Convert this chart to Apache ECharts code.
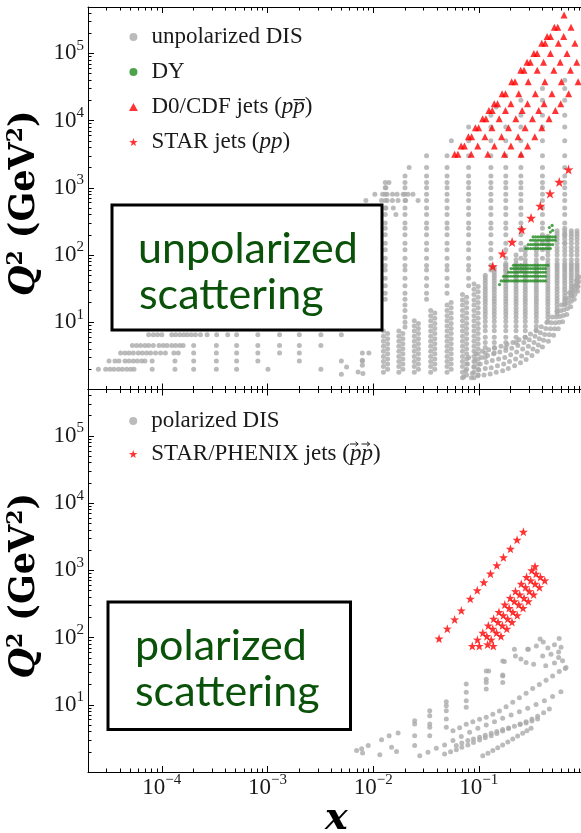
<!DOCTYPE html>
<html lang="en">
<head>
<meta charset="utf-8">
<title>x - Q2 coverage</title>
<script src="https://cdn.jsdelivr.net/npm/echarts@6/dist/echarts.min.js"></script>
<style>
  html, body { margin: 0; padding: 0; background: #fff; }
  #chart { width: 581px; height: 833px; }
</style>
</head>
<body>
<div id="chart"></div>
<script>
// ---------------- data (x, Q^2 in GeV^2) ----------------

// unpolarized DIS: HERA low-Q2 rows (bottom left)
var disRowQ2 = [6.5, 4.5, 3.5, 2.65, 2.0];
var disRowX = [
  [7.5e-5, 8.3e-5, 9.1e-5, 1.0e-4, 1.24e-4, 1.35e-4, 1.48e-4, 1.61e-4, 1.74e-4, 1.9e-4, 2.08e-4, 2.32e-4, 2.68e-4, 3.3e-4, 4.2e-4, 5.1e-4, 8.1e-4, 1.3e-3, 2.0e-3, 3.2e-3, 5.0e-3],
  [5.26e-5, 5.77e-5, 6.3e-5, 6.92e-5, 7.5e-5, 8.3e-5, 9.4e-5, 1.03e-4, 1.12e-4, 1.24e-4, 1.35e-4, 1.48e-4, 1.59e-4, 2.0e-4, 3.28e-4, 5.1e-4, 8.1e-4, 1.3e-3, 2.0e-3, 3.2e-3],
  [4.07e-5, 4.48e-5, 4.89e-5, 5.37e-5, 5.98e-5, 6.53e-5, 7.17e-5, 7.82e-5, 8.71e-5, 9.72e-5, 1.08e-4, 1.3e-4, 1.43e-4, 2.0e-4, 3.28e-4, 5.1e-4, 8.1e-4, 1.3e-3, 2.0e-3, 7.9e-3, 9.1e-3],
  [3.16e-5, 3.6e-5, 3.93e-5, 4.48e-5, 4.89e-5, 5.37e-5, 5.86e-5, 6.44e-5, 6.92e-5, 8.1e-5, 1.33e-4, 2.0e-4, 3.28e-4, 5.1e-4, 8.1e-4, 2.0e-3, 5.0e-3, 7.9e-3],
  [2.51e-5, 2.94e-5, 3.23e-5, 3.52e-5, 3.88e-5, 4.23e-5, 4.65e-5, 5.07e-5, 5.45e-5, 8.1e-5, 1.33e-4, 2.0e-4, 3.28e-4, 5.1e-4, 1.01e-3, 3.2e-3]
];

// unpolarized DIS: HERA columns at fixed x
var heraQ2 = [8.5, 10, 12, 15, 18, 22, 27, 35, 45, 60, 70, 90, 120, 150, 200, 250, 300, 400, 500, 650, 800, 1000, 1200, 1500, 2000, 3000, 5000, 8000, 12000, 20000, 30000];
var heraColX = [0.013, 0.02, 0.032, 0.05, 0.08, 0.13, 0.18, 0.25, 0.4, 0.65];
var heraColMin = [22, 8.5, 22, 27, 35, 60, 45, 60, 90, 150];
var heraColMax = [1200, 1500, 3000, 3000, 8000, 12000, 8000, 20000, 30000, 30000];

// unpolarized DIS: scattered single points
var disExtra = [
  [0.00853, 650], [0.01037, 800], [0.01227, 800], [0.01355, 800], [0.01524, 800], [0.01683, 800], [0.0192, 800], [0.0214, 800], [0.0238, 800],
  [0.012, 650], [0.01355, 650], [0.0152, 650], [0.0172, 650], [0.0203, 650], [0.0266, 650],
  [0.0141, 1200], [0.0219, 2000], [0.0132, 1000], [0.0132, 500], [0.0155, 500], [0.0164, 400],
  [0.055, 5000], [0.146, 16000], [0.65, 40000],
  [0.0056, 2.16], [0.005, 1.68], [0.0072, 1.82], [0.008, 1.73], [0.0079, 2.29], [0.0079, 2.72]
];

// unpolarized DIS: fixed-target pairs at small x
var nmcQ2A = [1.5, 1.8, 2.2, 2.6, 3.1, 3.7, 4.4, 5.2, 6.2, 7.4, 8.8, 10.5, 12.5, 15, 18, 21.5, 26, 31, 37];
var nmcQ2B = [1.65, 2.0, 2.4, 2.85, 3.4, 4.05, 4.8, 5.7, 6.8, 8.1, 9.6, 11.5, 13.7, 16.5, 19.7, 23.5, 28.5, 34];
var nmcColXA = [0.0125, 0.0175, 0.0245, 0.035, 0.05, 0.07, 0.09];
var nmcColMinA = [1.8, 1.8, 1.8, 1.8, 1.8, 1.5, 1.5];
var nmcColMaxA = [7.4, 7.4, 10.5, 15, 18, 26, 37];
var nmcColXB = [0.0137, 0.0191, 0.0268, 0.0383, 0.0547, 0.0766, 0.0985];
var nmcColMinB = [2.0, 2.0, 2.0, 2.0, 2.0, 1.65, 1.65];
var nmcColMaxB = [6.8, 6.8, 9.6, 13.7, 19.7, 23.5, 34];

// unpolarized DIS: fixed-target columns at large x
var ftQ2 = [2.5, 3, 3.5, 4.2, 5, 6, 7.5, 8.75, 10.25, 11.75, 13.25, 14.75, 16.5, 18.5, 20.5, 22.5, 25, 28, 31, 34, 38, 42, 46, 50, 55, 60, 65, 70, 75, 85, 100, 115, 130, 150, 170, 190, 210, 230];
var ftColX = [0.115, 0.14, 0.18, 0.225, 0.275, 0.35, 0.45, 0.55, 0.65, 0.75, 0.85];
var ftColMin = [3, 3.5, 4.2, 5, 6, 7.5, 10.25, 13.25, 18.5, 25, 34];
var ftColMax = [50, 65, 75, 100, 130, 150, 190, 230, 230, 230, 230];

// unpolarized DIS: dense low-Q2 band at large x
var slacPts = [
  [0.072, 1.55], [0.075, 1.9], [0.078, 2.4], [0.08, 3.0],
  [0.085, 1.5], [0.087, 1.75], [0.09, 2.15], [0.092, 2.7], [0.094, 3.4],
  [0.098, 1.6], [0.1, 1.95], [0.103, 2.4], [0.106, 3.0], [0.108, 3.7],
  [0.112, 1.65], [0.115, 2.05], [0.118, 2.55], [0.121, 3.2], [0.124, 3.9],
  [0.128, 1.7], [0.131, 2.1], [0.134, 2.7], [0.138, 3.4], [0.141, 4.1],
  [0.146, 1.8], [0.15, 2.25], [0.154, 2.85], [0.158, 3.6], [0.162, 4.4],
  [0.168, 1.9], [0.172, 2.4], [0.176, 3.0], [0.18, 3.8], [0.185, 4.7],
  [0.19, 2.05], [0.195, 2.6], [0.2, 3.3], [0.205, 4.1], [0.21, 5.0],
  [0.218, 2.25], [0.223, 2.85], [0.228, 3.6], [0.234, 4.5], [0.24, 5.5],
  [0.248, 2.5], [0.254, 3.15], [0.26, 4.0], [0.267, 5.0], [0.274, 6.0],
  [0.28, 2.8], [0.287, 3.5], [0.294, 4.4], [0.3, 5.5], [0.308, 6.7],
  [0.318, 3.2], [0.325, 4.0], [0.333, 5.0], [0.34, 6.2], [0.348, 7.6],
  [0.358, 3.7], [0.366, 4.6], [0.374, 5.7], [0.382, 7.0], [0.39, 8.6],
  [0.4, 4.3], [0.41, 5.4], [0.42, 6.6], [0.43, 8.1], [0.44, 9.9],
  [0.455, 5.2], [0.465, 6.5], [0.475, 8.0], [0.485, 9.8], [0.495, 12],
  [0.51, 6.4], [0.52, 8.0], [0.53, 9.8], [0.54, 12], [0.55, 14.5],
  [0.565, 8.0], [0.575, 10], [0.585, 12.2], [0.595, 14.8], [0.605, 18],
  [0.62, 10.2], [0.63, 12.6], [0.64, 15.3], [0.65, 18.5], [0.66, 22],
  [0.68, 13], [0.69, 16], [0.7, 19.3], [0.71, 23], [0.72, 27.5],
  [0.74, 17], [0.75, 20.5], [0.76, 24.5], [0.77, 29], [0.78, 34],
  [0.8, 22], [0.81, 26], [0.82, 30.5], [0.83, 36], [0.84, 42],
  [0.86, 29], [0.87, 34], [0.88, 40], [0.89, 47]
];

// Drell-Yan rows
var dyX = [0.1626, 0.1715, 0.181, 0.191, 0.2015, 0.2125, 0.224, 0.2365, 0.2495, 0.263, 0.2775, 0.293, 0.309, 0.326, 0.344, 0.363, 0.383, 0.404, 0.426, 0.45, 0.475, 0.5, 0.528];
var dyRowQ2 = [70.5, 63, 55.5, 48.4, 41.2, 186, 166, 143, 125];
var dyRowMin = [0.2125, 0.2015, 0.191, 0.1715, 0.1626, 0.326, 0.309, 0.293, 0.2775];
var dyRowMax = [0.45, 0.426, 0.426, 0.426, 0.426, 0.528, 0.528, 0.5, 0.475];
var dyExtra = [[0.465, 257], [0.494, 276], [0.5, 233], [0.475, 220], [0.157, 36.4]];

// D0/CDF jets: pT rows and one x list per rapidity band
var triQ2 = [3160, 4200, 5750, 7800, 10700, 14100, 17800, 25100, 38000, 56200, 74100, 100000, 141000, 178000, 245000, 372000];
var triBandX = [
  [0.059, 0.068, 0.0796, 0.0927, 0.1086, 0.1246, 0.140, 0.166, 0.2046, 0.249, 0.286, 0.332, 0.394, 0.443, 0.519, 0.641],
  [0.0634, 0.0731, 0.0855, 0.0996, 0.1167, 0.1339, 0.1504, 0.1787, 0.2198, 0.2674, 0.307, 0.356, 0.424, 0.476, 0.558],
  [0.0847, 0.0977, 0.1143, 0.1331, 0.1559, 0.1789, 0.201, 0.2387, 0.2937, 0.357, 0.41, 0.476, 0.566, 0.635, 0.745],
  [0.1216, 0.1402, 0.164, 0.191, 0.2239, 0.2568, 0.2886, 0.3427, 0.4216, 0.5128, 0.589, 0.683, 0.812],
  [0.1746, 0.2013, 0.2355, 0.2743, 0.3214, 0.3688, 0.4143, 0.492, 0.605, 0.736, 0.845],
  [0.251, 0.2894, 0.3386, 0.3943, 0.4621, 0.5301, 0.5956, 0.7073, 0.870]
];

// STAR jets (pp)
var starX = [0.1355, 0.168, 0.2065, 0.2545, 0.312, 0.382, 0.472, 0.577, 0.706];
var starQ2 = [68, 105, 157, 240, 357, 537, 822, 1225, 1870];

// polarized DIS
var polDisPts = [
  [0.00697, 2.08], [0.00778, 2.21], [0.00794, 1.92], [0.00897, 2.47], [0.01156, 1.8], [0.012, 3.03], [0.01416, 3.47], [0.01493, 2.34], [0.0172, 3.81], [0.01663, 2.01],
  [0.0247, 5.8], [0.0247, 5.17], [0.0247, 3.47], [0.0247, 2.47],
  [0.0343, 8.15], [0.0343, 6.87], [0.0343, 5.17], [0.0343, 4.62], [0.0343, 3.47],
  [0.0492, 11.1], [0.0492, 9.66], [0.0492, 8.15], [0.0492, 6.14], [0.0492, 4.62],
  [0.076, 20.3], [0.076, 15.3], [0.076, 11.5], [0.076, 9.15],
  [0.1175, 31.9], [0.1175, 24], [0.1175, 21.5], [0.1175, 17.1],
  [0.1683, 44.9], [0.1683, 26.9], [0.1683, 21.5],
  [0.217, 66.8], [0.29, 66.8], [0.576, 96.4], [0.569, 61], [0.569, 50.3], [0.407, 85.8], [0.402, 53.2],
  [0.294, 66.8], [0.28, 42.5], [0.222, 53.2], [0.1746, 44], [0.1683, 27.8], [0.124, 31.9], [0.482, 56.4], [0.658, 34.6],
  [0.35, 75], [0.45, 70], [0.52, 78], [0.6, 72], [0.38, 95], [0.25, 48], [0.33, 40], [0.43, 38], [0.52, 42], [0.62, 45]
];
var polChain1 = [[0.0569, 4.12], [0.0658, 4.56], [0.076, 5.12], [0.0877, 5.6], [0.1016, 6.07], [0.1175, 6.5], [0.1356, 7.2], [0.1567, 8.07], [0.181, 9.34], [0.2094, 10.9], [0.242, 12.7], [0.28, 14.9], [0.323, 17.5], [0.374, 20], [0.4325, 23.2], [0.499, 26.9], [0.577, 31.3], [0.668, 35.8]];
var polChain2 = [[0.0276, 1.75], [0.033, 1.97], [0.0396, 2.26], [0.0474, 2.53], [0.0569, 2.93], [0.0682, 3.36], [0.0817, 3.9], [0.0979, 4.47], [0.1175, 5.01], [0.1406, 5.6], [0.168, 6.28], [0.202, 7.03], [0.242, 7.87], [0.29, 8.85], [0.348, 10.1], [0.417, 11.5], [0.499, 13.3], [0.598, 15.6]];
var polChain3 = [[0.0474, 1.86], [0.054, 2.0], [0.0612, 2.15], [0.069, 2.33], [0.0787, 2.53], [0.089, 2.75], [0.1016, 3.0], [0.115, 3.22], [0.131, 3.47], [0.148, 3.75], [0.168, 4.07], [0.191, 4.42], [0.217, 4.79], [0.246, 5.18], [0.28, 5.6], [0.318, 6.13], [0.36, 6.73], [0.41, 7.6], [0.465, 8.63]];
var polChain4 = [[0.0612, 2.47], [0.069, 2.69], [0.0787, 2.93], [0.089, 3.1], [0.1016, 3.29], [0.115, 3.52], [0.131, 3.77], [0.148, 4.0], [0.168, 4.27], [0.191, 4.52], [0.246, 5.07], [0.28, 5.36], [0.318, 5.73], [0.36, 6.14]];
var polChain5 = [[0.109, 1.75], [0.122, 1.9], [0.1356, 2.08], [0.151, 2.3], [0.168, 2.53], [0.188, 2.8], [0.2094, 3.1], [0.233, 3.42], [0.26, 3.77], [0.285, 4.1], [0.312, 4.47]];

// STAR/PHENIX polarized jets
var polJetAX = [0.042, 0.0503, 0.059, 0.0683, 0.083, 0.0966, 0.1115, 0.1288, 0.148, 0.171, 0.199, 0.23, 0.264];
var polJetAQ2 = [96.4, 135.5, 186, 253, 377, 506, 664, 893, 1186, 1559, 2094, 2851, 3741];
var polJetB = [
  [0.0867, 75], [0.097, 93], [0.109, 118], [0.123, 151], [0.138, 190], [0.155, 240], [0.176, 309], [0.198, 389], [0.222, 490], [0.252, 631], [0.283, 794], [0.317, 1000], [0.34, 1150],
  [0.101, 75], [0.119, 105], [0.1355, 135], [0.152, 170], [0.1706, 214], [0.1936, 275], [0.217, 347], [0.2437, 437], [0.2767, 562], [0.31, 708], [0.348, 891],
  [0.121, 79], [0.131, 93], [0.147, 118], [0.167, 151], [0.1875, 190], [0.21, 240], [0.239, 309], [0.268, 389], [0.3005, 490], [0.341, 631], [0.383, 794],
  [0.137, 75], [0.162, 105], [0.184, 135], [0.206, 170], [0.231, 214], [0.262, 275], [0.294, 347], [0.33, 437], [0.375, 562], [0.421, 708]
];

// ---------------- helpers ----------------
var lg = Math.log10;
var X_MIN = lg(2e-5), X_MAX = 0, Y_MIN = 0, Y_MAX = 5.69;
var STAR = 'path://M50,0L61.8,35.1L97.6,34.5L68.9,56.9L79.4,90.5L50,70.6L20.6,90.5L31.1,56.9L2.4,34.5L38.2,35.1Z';
var TRI = 'path://M50,0L100,90L0,90Z';
var GRAY = '#aaaaaa', GREEN = '#228b22', RED = '#ff0000', INK = '#1a1a1a';
var SERIF = '"Liberation Serif", "DejaVu Serif", serif';
var LEG_LEFT = 124;

function fromPairs(list) {
  return list.map(function (p) { return [lg(p[0]), lg(p[1])]; });
}
function fromXY(xs, qs) {
  return xs.map(function (x, i) { return [lg(x), lg(qs[i])]; });
}
function fromRows(rowQ2, rowX) {
  var out = [];
  rowQ2.forEach(function (q, i) {
    rowX[i].forEach(function (x) { out.push([lg(x), lg(q)]); });
  });
  return out;
}
function fromColumns(colX, bins, qMin, qMax) {
  var out = [];
  colX.forEach(function (x, i) {
    bins.forEach(function (q) {
      if (q >= qMin[i] && q <= qMax[i]) out.push([lg(x), lg(q)]);
    });
  });
  return out;
}
function fromRowRanges(rowQ2, xs, xMin, xMax) {
  var out = [];
  rowQ2.forEach(function (q, i) {
    xs.forEach(function (x) {
      if (x >= xMin[i] && x <= xMax[i]) out.push([lg(x), lg(q)]);
    });
  });
  return out;
}
function fromBands(rowQ2, bands) {
  var out = [];
  bands.forEach(function (band) {
    band.forEach(function (x, i) { out.push([lg(x), lg(rowQ2[i])]); });
  });
  return out;
}

function minorTicks(lo, hi) {
  var out = [];
  for (var d = Math.floor(lo); d < hi; d++) {
    for (var k = 2; k <= 9; k++) {
      var v = d + lg(k);
      if (v > lo + 1e-9 && v < hi) out.push(v);
    }
  }
  return out;
}

function powLabel(v) {
  var e = Math.round(v);
  return '{b|10}{s|' + (e < 0 ? '\u2212' + (-e) : e) + '}';
}
var labelRich = {
  b: { fontFamily: SERIF, fontSize: 23, lineHeight: 30, color: INK },
  s: { fontFamily: SERIF, fontSize: 15, lineHeight: 15, verticalAlign: 'top', color: INK }
};

function axis(dim, grid, pos, ticks, len, line, labels, extra) {
  var a = {
    type: 'value', gridIndex: grid, position: pos,
    min: dim === 'x' ? X_MIN : Y_MIN,
    max: dim === 'x' ? X_MAX : Y_MAX,
    splitLine: { show: false },
    axisLine: { show: line, onZero: false, lineStyle: { color: '#000', width: 1 } },
    axisTick: { show: true, inside: true, length: len, customValues: ticks, lineStyle: { color: '#000', width: 1 } },
    axisLabel: labels ? {
      show: true, customValues: labels, formatter: powLabel, margin: dim === 'x' ? 1 : 4,
      color: INK, rich: labelRich
    } : { show: false }
  };
  if (extra) for (var k in extra) a[k] = extra[k];
  return a;
}

var xMajor = [-4, -3, -2, -1], xMinor = minorTicks(X_MIN, X_MAX);
var yMajor = [0, 1, 2, 3, 4, 5], yMinor = minorTicks(Y_MIN, Y_MAX), yLabels = [1, 2, 3, 4, 5];

var yName = {
  name: '{q|Q}{s|2}{n| (GeV}{s|2}{n|)}',
  nameLocation: 'middle', nameRotate: 90, nameGap: 32,
  nameTextStyle: {
    padding: [0, 10, 0, 0],
    rich: {
      q: { fontFamily: '"DejaVu Serif", serif', fontStyle: 'italic', fontWeight: 'bold', fontSize: 35, lineHeight: 40, color: '#000' },
      n: { fontFamily: '"DejaVu Serif", serif', fontWeight: 'bold', fontSize: 35, lineHeight: 40, color: '#000' },
      s: { fontFamily: '"DejaVu Serif", serif', fontWeight: 'bold', fontSize: 22, lineHeight: 22, verticalAlign: 'top', color: '#000' }
    }
  }
};
var xName = {
  name: 'x', nameLocation: 'middle', nameGap: 24,
  nameTextStyle: { fontFamily: '"DejaVu Serif", serif', fontStyle: 'italic', fontWeight: 'bold', fontSize: 38, color: '#000' }
};

var legendFmt = {
  'D0/CDF jets': 'D0/CDF jets ({i|pp\u0305})',
  'STAR jets': 'STAR jets ({i|pp})',
  'STAR/PHENIX jets': 'STAR/PHENIX jets ({i|pp})'
};
function legendBox(top, gap, items) {
  return {
    orient: 'vertical', left: LEG_LEFT, top: top, itemWidth: 26, itemHeight: 8, itemGap: gap,
    selectedMode: false, data: items,
    formatter: function (name) { return legendFmt[name] || name; },
    textStyle: {
      fontFamily: SERIF, fontSize: 23, lineHeight: 24, color: INK,
      rich: { i: { fontFamily: SERIF, fontStyle: 'italic', fontSize: 23, lineHeight: 24, color: INK } }
    }
  };
}

var topGray = [].concat(
  fromRows(disRowQ2, disRowX),
  fromColumns(heraColX, heraQ2, heraColMin, heraColMax),
  fromPairs(disExtra),
  fromColumns(nmcColXA, nmcQ2A, nmcColMinA, nmcColMaxA),
  fromColumns(nmcColXB, nmcQ2B, nmcColMinB, nmcColMaxB),
  fromColumns(ftColX, ftQ2, ftColMin, ftColMax),
  fromPairs(slacPts)
);
var topDY = fromRowRanges(dyRowQ2, dyX, dyRowMin, dyRowMax).concat(fromPairs(dyExtra));
var polGray = [].concat(fromPairs(polDisPts), fromPairs(polChain1), fromPairs(polChain2),
  fromPairs(polChain3), fromPairs(polChain4), fromPairs(polChain5));
var polJets = fromXY(polJetAX, polJetAQ2).concat(fromPairs(polJetB));

// small vector arrows over the two p's of the polarized-jets legend entry
function vecArrow(cx, cy) {
  return {
    type: 'group', x: cx, y: cy, z: 110, children: [
      { type: 'line', shape: { x1: -4, y1: 0, x2: 4, y2: 0 }, style: { stroke: INK, lineWidth: 1 } },
      { type: 'polyline', shape: { points: [[1.5, -2.2], [4.2, 0], [1.5, 2.2]] }, style: { stroke: INK, lineWidth: 1, fill: null } }
    ]
  };
}

var chart = echarts.init(document.getElementById('chart'));
chart.setOption({
  animation: false,
  backgroundColor: '#fff',
  grid: [
    { left: 88, top: 7, width: 496.5, height: 382.5, outerBoundsMode: 'none' },
    { left: 88, top: 389.5, width: 496.5, height: 382.5, outerBoundsMode: 'none' }
  ],
  xAxis: [
    axis('x', 0, 'bottom', xMajor, 6, true, null),
    axis('x', 0, 'bottom', xMinor, 3.5, false, null),
    axis('x', 0, 'top', xMajor, 6, true, null),
    axis('x', 0, 'top', xMinor, 3.5, false, null),
    axis('x', 1, 'bottom', xMajor, 6, true, xMajor, xName),
    axis('x', 1, 'bottom', xMinor, 3.5, false, null),
    axis('x', 1, 'top', xMajor, 6, true, null),
    axis('x', 1, 'top', xMinor, 3.5, false, null)
  ],
  yAxis: [
    axis('y', 0, 'left', yMajor, 6, true, yLabels, yName),
    axis('y', 0, 'left', yMinor, 3.5, false, null),
    axis('y', 1, 'left', yMajor, 6, true, yLabels, yName),
    axis('y', 1, 'left', yMinor, 3.5, false, null)
  ],
  legend: [
    legendBox(20, 11, [
      { name: 'unpolarized DIS', icon: 'circle' },
      { name: 'DY', icon: 'circle' },
      { name: 'D0/CDF jets', icon: TRI },
      { name: 'STAR jets', icon: STAR }
    ]),
    legendBox(404, 9, [
      { name: 'polarized DIS', icon: 'circle' },
      { name: 'STAR/PHENIX jets', icon: STAR }
    ])
  ],
  series: [
    { name: 'unpolarized DIS', type: 'scatter', xAxisIndex: 0, yAxisIndex: 0, symbol: 'circle', symbolSize: 5,
      itemStyle: { color: GRAY }, data: topGray },
    { name: 'DY', type: 'scatter', xAxisIndex: 0, yAxisIndex: 0, symbol: 'circle', symbolSize: 3.2,
      itemStyle: { color: GREEN }, data: topDY },
    { name: 'D0/CDF jets', type: 'scatter', xAxisIndex: 0, yAxisIndex: 0, symbol: 'triangle', symbolSize: 7,
      itemStyle: { color: RED }, data: fromBands(triQ2, triBandX) },
    { name: 'STAR jets', type: 'scatter', xAxisIndex: 0, yAxisIndex: 0, symbol: STAR, symbolSize: 10,
      itemStyle: { color: RED }, data: fromXY(starX, starQ2) },
    { name: 'polarized DIS', type: 'scatter', xAxisIndex: 4, yAxisIndex: 2, symbol: 'circle', symbolSize: 5,
      itemStyle: { color: GRAY }, data: polGray },
    { name: 'STAR/PHENIX jets', type: 'scatter', xAxisIndex: 4, yAxisIndex: 2, symbol: STAR, symbolSize: 9,
      itemStyle: { color: RED }, data: polJets }
  ],
  graphic: [
    { type: 'rect', z: 100, shape: { x: 112, y: 205, width: 270, height: 125 },
      style: { fill: '#fff', stroke: '#000', lineWidth: 3 } },
    { type: 'text', z: 101, x: 138, y: 249, style: { text: 'unpolarized', font: '43px Lato', fill: '#0a520a', verticalAlign: 'middle' } },
    { type: 'text', z: 101, x: 139, y: 295, style: { text: 'scattering', font: '43px Lato', fill: '#0a520a', verticalAlign: 'middle' } },
    { type: 'rect', z: 100, shape: { x: 108, y: 602, width: 242.5, height: 127.5 },
      style: { fill: '#fff', stroke: '#000', lineWidth: 3 } },
    { type: 'text', z: 101, x: 135, y: 646, style: { text: 'polarized', font: '43px Lato', fill: '#0a520a', verticalAlign: 'middle' } },
    { type: 'text', z: 101, x: 135, y: 692, style: { text: 'scattering', font: '43px Lato', fill: '#0a520a', verticalAlign: 'middle' } },
    vecArrow(LEG_LEFT + 230, 444),
    vecArrow(LEG_LEFT + 241.5, 444)
  ]
});
</script>
</body>
</html>
